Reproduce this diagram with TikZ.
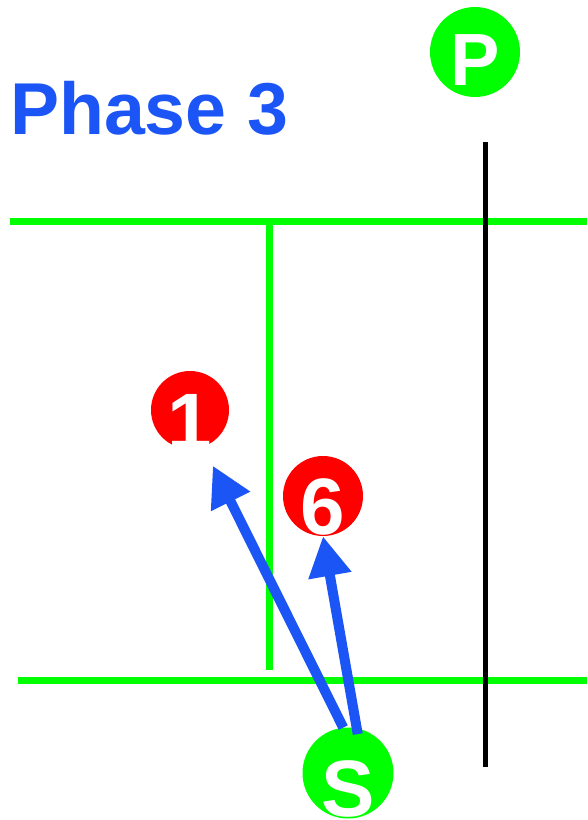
\documentclass[tikz,border=0pt]{standalone}
\usepackage{fontspec}
\setmainfont{Liberation Sans}
\usepackage{tikz}
\usetikzlibrary{arrows.meta}
\definecolor{court}{HTML}{00FF00}
\definecolor{ballred}{HTML}{FF0000}
\definecolor{moveblue}{HTML}{1C55F5}

\tikzset{
  ball/.style={circle, fill=#1, inner sep=0pt},
  tag/.style={text=white, font=\fontsize{80}{80}\selectfont\bfseries, inner sep=0pt},
  push/.style={moveblue, line width=10pt, -{Triangle[length=40pt,width=41pt]}},
}

\begin{document}
\begin{tikzpicture}[x=1pt, y=-1pt]
\useasboundingbox (0,0) rectangle (587,820);

% Title
\node[moveblue, font=\fontsize{73.5}{74}\selectfont\bfseries, anchor=base west, inner sep=0pt] (title) at (10,134) {Phase 3};

% Court lines
\draw[court, line width=7pt] (10,221) -- (587,221);
\draw[court, line width=7pt] (18,680) -- (587,680);
\draw[court, line width=7pt] (269,221) -- (269,670);

% Net post line
\draw[black, line width=5pt] (485,142) -- (485,767);

% Players
\node[ball=court, minimum size=90pt,
      label={[tag, font=\fontsize{74}{74}\selectfont\bfseries, yshift=-8pt]center:P}] (P) at (475,52) {};
\node[ball=ballred, minimum size=78pt,
      label={[tag, yshift=-12pt]center:1}] (one) at (190,410) {};
\node[ball=ballred, minimum size=80pt,
      label={[tag, yshift=-11pt]center:6}] (six) at (323,496) {};
\node[ball=court, minimum size=91pt,
      label={[tag, yshift=-16pt]center:S}] (S) at (348,773) {};

% Moves
\draw[push, shorten >=21pt] (S.96) -- (one.-70);
\draw[push, shorten <=-6pt] (S.79) -- (six.south);

\end{tikzpicture}
\end{document}
